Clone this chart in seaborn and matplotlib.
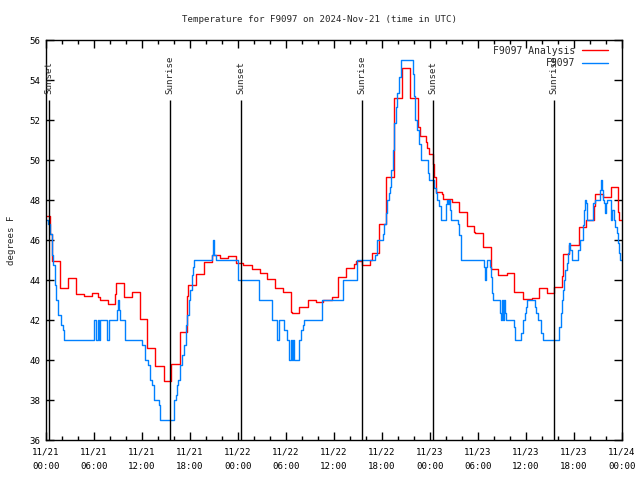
import matplotlib
matplotlib.use('Agg')
import matplotlib.pyplot as plt
from matplotlib.ticker import MultipleLocator
import seaborn as sns
import pandas as pd

# hours since 2024-11-21 00:00 UTC
blue_t = [0.0, 0.3, 0.5, 0.7, 0.9, 1.08, 1.25, 1.54, 1.83, 2.08, 2.25,
          6.04, 6.3, 6.5, 6.65, 6.79, 7.6, 7.85, 8.85, 8.96, 9.1, 9.29, 9.9,
          12.0, 12.4, 12.8, 13.0, 13.25, 13.46, 13.54, 14.1, 14.25,
          15.96, 16.2, 16.33, 16.5, 16.75, 17.04, 17.2, 17.46, 17.63, 17.83, 18.0,
          18.29, 18.42, 18.54, 20.7, 20.9, 21.0, 21.25, 23.96, 26.67,
          28.2, 28.83, 29.1, 29.79, 30.08, 30.42, 30.58, 30.71, 30.83, 31.0,
          31.67, 31.88, 32.08, 32.25, 34.46, 37.08, 38.83,
          41.08, 41.42, 42.17, 42.25, 42.46, 42.67, 42.85, 43.0, 43.17, 43.33,
          43.5, 43.71, 43.92, 44.13, 44.33, 44.42, 45.83, 46.0, 46.13, 46.33,
          46.6, 46.83, 47.79, 47.92, 48.54, 48.75, 48.92, 49.17, 49.33,
          49.96, 50.08, 50.21, 50.38, 50.5, 50.63, 51.54, 51.67, 51.83, 51.92,
          54.75, 54.88, 55.0, 55.17, 55.5, 55.63, 55.75, 55.92, 56.75, 56.88,
          57.04, 57.17, 57.29, 57.42, 57.5, 58.46, 58.63, 59.38, 59.67, 59.85,
          60.0, 60.17, 61.13, 61.3, 61.54, 61.9, 62.17, 64.17, 64.38, 64.54,
          64.67, 64.79, 64.92, 65.08, 65.29, 65.38, 65.5, 65.71, 66.46, 66.75,
          67.08, 67.25, 67.42, 67.5, 67.58, 67.67, 68.42, 68.67, 69.25, 69.38,
          69.5, 69.58, 69.79, 69.92, 70.0, 70.17, 70.58, 70.67, 70.79, 70.96,
          71.17, 71.33, 71.46, 71.58, 71.71, 71.95]
blue_v = [47.0, 46.8, 46.3, 45.25, 44.75, 43.75, 43.0, 42.25, 41.75, 41.5, 41.0,
          42.0, 41.0, 42.0, 41.0, 42.0, 41.0, 42.0, 42.5, 43.0, 42.5, 42.0, 41.0,
          40.75, 40.0, 39.75, 39.0, 38.75, 38.3, 38.0, 37.75, 37.0,
          38.0, 38.25, 38.75, 39.0, 39.75, 40.25, 40.75, 41.75, 42.25, 43.0, 43.5,
          44.25, 44.67, 45.0, 45.25, 46.0, 45.25, 45.0, 44.0, 43.0,
          42.0, 41.0, 42.0, 41.5, 41.0, 40.0, 41.0, 40.0, 41.0, 40.0,
          41.0, 41.5, 41.75, 42.0, 43.0, 44.0, 45.0,
          45.25, 46.0, 46.3, 46.8, 47.33, 48.0, 48.33, 48.67, 49.5, 50.5,
          51.83, 52.67, 53.33, 54.17, 54.83, 55.0, 54.3, 53.2, 52.0, 51.5,
          50.8, 50.0, 49.33, 49.0, 48.6, 48.33, 48.0, 47.7, 47.0,
          47.8, 48.0, 47.8, 48.0, 47.5, 47.0, 46.8, 46.25, 45.75, 45.0,
          44.67, 44.0, 44.67, 45.0, 44.67, 44.17, 43.33, 43.0, 42.33, 42.0,
          43.0, 42.0, 43.0, 42.33, 42.0, 41.67, 41.0, 41.33, 42.0, 42.33,
          42.67, 43.0, 42.67, 42.33, 42.0, 41.33, 41.0, 41.67, 42.33, 43.0,
          43.5, 44.0, 44.5, 44.83, 45.33, 45.83, 45.5, 45.0, 45.5, 46.0,
          46.75, 47.5, 48.0, 47.83, 47.08, 47.0, 47.83, 48.0, 48.5, 49.0,
          48.5, 48.0, 47.83, 47.33, 47.83, 48.0, 47.83, 47.0, 47.5, 47.0,
          46.67, 46.33, 45.83, 45.33, 45.0, 45.0]

red_t = [0.0, 0.45, 0.75, 1.75, 2.7, 3.7, 3.8, 4.75, 5.75, 6.5, 6.7, 7.75,
         8.63, 8.79, 9.75, 10.79, 11.75, 12.58, 13.63, 14.75, 15.65, 16.75,
         17.58, 17.75, 18.7, 19.7, 20.75, 21.75, 22.7, 23.75, 24.65, 25.7,
         26.7, 27.67, 28.65, 29.6, 30.58, 30.7, 31.65, 32.7, 33.75, 34.6,
         35.78, 36.5, 37.5, 38.55, 38.75, 39.5, 40.5, 40.8, 41.6, 42.5, 43.5,
         44.54, 45.5, 46.54, 46.75, 47.5, 47.67, 47.88, 48.42, 48.54, 48.71,
         49.46, 49.67, 50.71, 51.58, 52.58, 53.5, 53.67, 54.58, 55.58, 56.54,
         57.58, 58.54, 59.58, 60.71, 61.67, 62.58, 63.54, 64.46, 64.67, 65.42,
         66.58, 67.5, 68.5, 68.6, 69.58, 70.63, 71.54, 71.67, 71.95]
red_v = [47.2, 46.3, 44.95, 43.6, 44.1, 43.5, 43.3, 43.2, 43.33, 43.15, 43.0, 42.8,
         43.3, 43.85, 43.17, 43.38, 42.03, 40.6, 39.7, 38.95, 39.8, 41.38,
         43.2, 43.75, 44.3, 44.92, 45.25, 45.12, 45.2, 44.85, 44.75, 44.55,
         44.37, 44.05, 43.6, 43.42, 42.4, 42.33, 42.67, 43.0, 42.88, 43.0,
         43.13, 44.13, 44.58, 44.8, 44.95, 44.75, 45.0, 45.33, 46.8, 49.13, 53.1,
         54.58, 53.1, 51.67, 51.2, 50.9, 50.58, 50.3, 49.8, 49.17, 48.42,
         48.3, 48.05, 47.92, 47.42, 46.7, 46.4, 46.33, 45.67, 44.53, 44.25,
         44.37, 43.42, 43.05, 43.1, 43.58, 43.33, 43.63, 44.2, 45.28, 45.75,
         46.63, 47.0, 47.7, 48.28, 48.17, 48.63, 47.42, 47.0, 47.0]

event_hours = [0.41, 15.54, 24.41, 39.54, 48.35, 63.54]
event_names = ['Sunset', 'Sunrise', 'Sunset', 'Sunrise', 'Sunset', 'Sunrise']

tick_hours = list(range(0, 73, 6))
tick_labels = ['11/21\n00:00', '11/21\n06:00', '11/21\n12:00', '11/21\n18:00',
               '11/22\n00:00', '11/22\n06:00', '11/22\n12:00', '11/22\n18:00',
               '11/23\n00:00', '11/23\n06:00', '11/23\n12:00', '11/23\n18:00',
               '11/24\n00:00']

red = pd.DataFrame({'hour': red_t, 'temp': red_v})
blue = pd.DataFrame({'hour': blue_t, 'temp': blue_v})

sns.set_style('ticks')
plt.rcParams['font.family'] = ['DejaVu Sans Mono']
fs = 6.6

fig, ax = plt.subplots(figsize=(6.4, 4.8), dpi=100)
fig.subplots_adjust(left=46/640, right=622/640, bottom=40/480, top=440/480)

sns.lineplot(data=red, x='hour', y='temp', drawstyle='steps-post', color='#ff0000',
             lw=1.0, label='F9097 Analysis', ax=ax)
sns.lineplot(data=blue, x='hour', y='temp', drawstyle='steps-post', color='#0080ff',
             lw=1.0, label='F9097', ax=ax)

ax.vlines(event_hours, 36, 53, color='black', lw=1.0)
for h, name in zip(event_hours, event_names):
    ax.text(h, 53.3, name, rotation=90, ha='center', va='bottom', fontsize=fs)

ax.set_xlim(0, 72)
ax.set_ylim(36, 56)
ax.set_xticks(tick_hours)
ax.set_xticklabels(tick_labels, linespacing=1.75)
ax.xaxis.set_minor_locator(MultipleLocator(2))
ax.set_yticks(range(36, 57, 2))
ax.tick_params(which='both', direction='in', top=True, right=True, width=1,
               labelsize=fs, colors='black')
ax.tick_params(which='major', length=6, pad=4)
ax.tick_params(axis='x', which='major', pad=5.5)
ax.tick_params(which='minor', length=3)
for s in ax.spines.values():
    s.set_color('black')
    s.set_linewidth(1)

ax.set_xlabel('')
ax.set_ylabel('degrees F', fontsize=fs)
ax.yaxis.set_label_coords(-0.052, 0.5)

fig.text(0.5, 1 - 19/480, 'Temperature for F9097 on 2024-Nov-21 (time in UTC)',
         ha='center', va='center', fontsize=fs)

ax.legend(loc='upper right', frameon=False, markerfirst=False, fontsize=fs + 0.4,
          handlelength=2.6, handletextpad=0.7, labelspacing=0.25,
          borderaxespad=0.2, bbox_to_anchor=(0.985, 1.0))

fig.savefig('out.png', dpi=100)
